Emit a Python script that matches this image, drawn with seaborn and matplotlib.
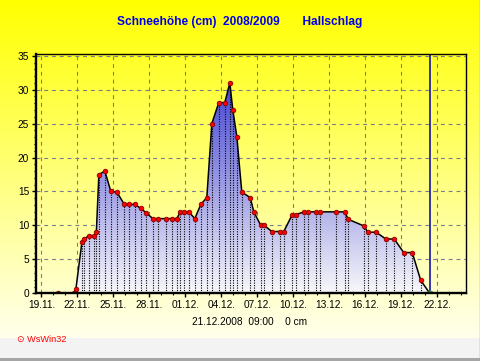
import numpy as np
import pandas as pd
import matplotlib
matplotlib.use("Agg")
import matplotlib.pyplot as plt
import seaborn as sns
from matplotlib.ticker import MultipleLocator

# readings (time, snow depth in cm)
times = [
    "2008-11-20 10:00", "2008-11-21 17:00", "2008-11-21 21:00", "2008-11-22 09:00",
    "2008-11-22 14:00", "2008-11-22 23:00", "2008-11-23 10:00", "2008-11-23 14:00",
    "2008-11-23 19:00", "2008-11-24 07:00", "2008-11-24 19:00", "2008-11-25 07:00",
    "2008-11-25 22:00", "2008-11-26 08:00", "2008-11-26 19:00", "2008-11-27 07:00",
    "2008-11-27 17:00", "2008-11-28 07:00", "2008-11-28 17:00", "2008-11-29 10:00",
    "2008-11-29 22:00", "2008-11-30 07:00", "2008-11-30 14:00", "2008-11-30 22:00",
    "2008-12-01 07:00", "2008-12-01 19:00", "2008-12-02 07:00", "2008-12-02 19:00",
    "2008-12-03 05:00", "2008-12-03 19:00", "2008-12-04 07:00", "2008-12-04 17:00",
    "2008-12-04 23:00", "2008-12-05 07:00", "2008-12-05 17:00", "2008-12-06 10:00",
    "2008-12-06 17:00", "2008-12-07 07:00", "2008-12-07 14:00", "2008-12-08 05:00",
    "2008-12-08 22:00", "2008-12-09 05:00", "2008-12-09 22:00", "2008-12-10 05:00",
    "2008-12-10 22:00", "2008-12-11 05:00", "2008-12-11 22:00", "2008-12-12 05:00",
    "2008-12-13 14:00", "2008-12-14 07:00", "2008-12-14 14:00", "2008-12-15 22:00",
    "2008-12-16 05:00", "2008-12-16 22:00", "2008-12-17 17:00", "2008-12-18 10:00",
    "2008-12-19 05:00", "2008-12-19 22:00", "2008-12-20 15:00", "2008-12-21 09:00",
]
depth = [
    0, 0, 0.6, 7.5,
    8, 8.5, 8.5, 9.1,
    17.5, 18, 15, 14.9,
    13.1, 13.1, 13.1, 12.5,
    11.9, 11, 11, 11,
    11, 11, 12, 12,
    12, 11, 13.1, 14.1,
    25, 28.1, 28.1, 31,
    27, 23.1, 14.9, 14.1,
    12, 10, 10, 9.1,
    9.1, 9.1, 11.6, 11.6,
    12, 12, 12, 12,
    12, 12, 10.9, 9.9,
    9, 9, 8, 8,
    6, 6, 1.9, 0,
]
tick_labels = ["19.11.", "22.11.", "25.11.", "28.11.", "01.12.", "04.12.",
               "07.12.", "10.12.", "13.12.", "16.12.", "19.12.", "22.12."]

t0 = pd.Timestamp("2008-11-19 00:00")
df = pd.DataFrame({
    "day": (pd.to_datetime(times) - t0) / pd.Timedelta(days=1),
    "cm": depth,
})

sns.set_style("ticks")
plt.rcParams["font.family"] = ["Liberation Sans", "DejaVu Sans"]

W, H = 481, 361
fig = plt.figure(figsize=(W / 100, H / 100), dpi=100)

# background gradient (yellow -> pale), light grey band at the bottom
bg = fig.add_axes([0, 0, 1, 1], zorder=-1)
rows = np.arange(H)
img = np.ones((H, 1, 3))
img[:, 0, 2] = np.clip(rows / 345.0, 0, 1) * 0.95
img[338:, 0, :] = 0.955
img[358:, 0, :] = 0.65
bg.imshow(img, aspect="auto", extent=[0, 1, 0, 1], origin="upper")
bg.plot([0.998, 0.998], [0.005, 1], color="#9a9a9a", lw=1)
bg.set_xlim(0, 1); bg.set_ylim(0, 1)
bg.axis("off")

ax = fig.add_axes([36 / W, 1 - 293.3 / H, 430 / W, 239.6 / H])
ax.set_facecolor("none")
xmin, xmax = -0.45, 35.4
ax.set_xlim(xmin, xmax)
ax.set_ylim(0, 35.3)

ax.grid(True, which="major", color="#7c7c90", linestyle=(0, (3.5, 3.5)), lw=0.8, zorder=0.5)
ax.set_axisbelow(True)

# gradient fill below the curve
grad = np.linspace(0, 1, 256)[:, None]
c0 = np.array([0.97, 0.97, 0.98])
c1 = np.array([0.18, 0.18, 0.80])
fill_img = c0 + (c1 - c0) * grad[..., None]
poly = ax.fill_between(df["day"], df["cm"], 0, facecolor="none", edgecolor="none")
im = ax.imshow(fill_img, extent=[xmin, xmax, 0, 35], origin="lower", aspect="auto", zorder=1)
im.set_clip_path(poly.get_paths()[0], transform=ax.transData)
ax.set_xlim(xmin, xmax)
ax.set_ylim(0, 35.3)

ax.vlines(df["day"], 0, df["cm"], colors="black", linestyles=(0, (1, 1.2)), lw=0.8, zorder=2)

sns.lineplot(data=df, x="day", y="cm", color="black", lw=1.1, marker="o", markersize=3.3,
             markerfacecolor="#ff0000", markeredgecolor="#8a0000", markeredgewidth=0.6,
             ax=ax, zorder=4)
ax.plot(df["day"].iloc[-1], df["cm"].iloc[-1], "o", ms=3.0, color="#20c020", zorder=5)

# current time marker
ax.axvline(df["day"].iloc[-1], color="#0000b0", lw=1.1, zorder=3)

ax.set_xticks(range(0, 34, 3))
ax.set_xticklabels(tick_labels)
ax.xaxis.set_minor_locator(MultipleLocator(1))
ax.yaxis.set_major_locator(MultipleLocator(5))
ax.yaxis.set_minor_locator(MultipleLocator(1))
ax.tick_params(which="major", direction="out", length=3, width=1, color="black",
               labelsize=7.3, pad=2, labelcolor="black")
ax.tick_params(which="minor", direction="out", length=1.5, width=0.8, color="black")
ax.set_xlabel(""); ax.set_ylabel("")

for side in ["left", "bottom"]:
    ax.spines[side].set_linewidth(1.7)
for side in ["top", "right"]:
    ax.spines[side].set_linewidth(1.0)
for s in ax.spines.values():
    s.set_color("black")
    s.set_zorder(6)

fig.text(0.498, 1 - 22.5 / H, "Schneehöhe (cm)  2008/2009       Hallschlag",
         ha="center", va="center", fontsize=8.6, fontweight="bold", color="#0000ee")
fig.text(250 / W, 1 - 322 / H, "21.12.2008  09:00    0 cm",
         ha="center", va="center", fontsize=7.3, color="black")
fig.text(17 / W, 1 - 340 / H, "⊙ WsWin32", ha="left", va="center",
         fontsize=6.6, color="#ff0000", family=["Liberation Sans", "DejaVu Sans"])

fig.savefig("out.png", dpi=100)
